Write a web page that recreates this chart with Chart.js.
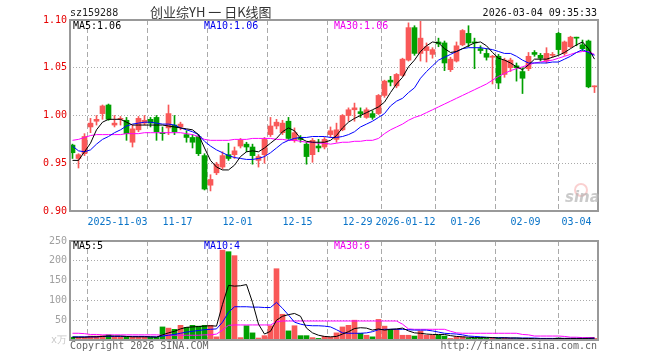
<!DOCTYPE html>
<html>
<head>
<meta charset="utf-8">
<script src="https://cdn.jsdelivr.net/npm/chart.js@4.4.0/dist/chart.umd.min.js"></script>
<style>
  body { margin: 0; width: 660px; height: 360px; background: #fff; position: relative; overflow: hidden;
         font-family: 'DejaVu Sans Mono', monospace; font-size: 10px; }
  canvas { position: absolute; left: 0; }
  #velas { top: 0; }
  #vol { top: 232px; }
  .t { position: absolute; white-space: nowrap; line-height: 12px; }
</style>
</head>
<body>
<canvas id="velas" width="660" height="232" style="width:660px;height:232px"></canvas>
<canvas id="vol" width="660" height="128" style="width:660px;height:128px"></canvas>

<div class="t" style="left:70px;top:7px;color:#222">sz159288</div>
<div class="t" style="left:150px;top:4px;line-height:16px;font-family:'Noto Sans CJK SC';font-size:13px;color:#333">创业综YH 一 日K线图</div>
<div class="t" style="right:63px;top:7px;color:#111">2026-03-04 09:35:33</div>
<div class="t" id="lMa5" style="left:73px;top:20px;color:#000"></div>
<div class="t" id="lMa10" style="left:204px;top:20px;color:#0000ee"></div>
<div class="t" id="lMa30" style="left:334px;top:20px;color:#ee00ee"></div>
<div class="t" id="vMa5" style="left:73px;top:240px;color:#000"></div>
<div class="t" id="vMa10" style="left:204px;top:240px;color:#0000ee"></div>
<div class="t" id="vMa30" style="left:334px;top:240px;color:#ee00ee"></div>
<div class="t" style="left:70px;top:340px;color:#666">Copyright 2026 SINA.COM</div>
<div class="t" style="right:63px;top:340px;color:#666">http://finance.sina.com.cn</div>
<div style="position:absolute;left:574px;top:183px;width:10px;height:10px;border:2px solid rgba(240,120,120,0.35);border-radius:50%"></div>
<div class="t" style="left:565px;top:190px;line-height:14px;font-family:'DejaVu Sans';font-size:15px;font-weight:bold;font-style:italic;color:rgba(180,180,180,0.7)">sina</div>

<script>
// dias de cotizacion (88 sesiones)
const dias = [
  '2025-10-22','2025-10-23','2025-10-24','2025-10-27','2025-10-28','2025-10-29','2025-10-30','2025-10-31',
  '2025-11-03','2025-11-04','2025-11-05','2025-11-06','2025-11-07','2025-11-10','2025-11-11','2025-11-12','2025-11-13','2025-11-14',
  '2025-11-17','2025-11-18','2025-11-19','2025-11-20','2025-11-21','2025-11-24','2025-11-25','2025-11-26','2025-11-27','2025-11-28',
  '2025-12-01','2025-12-02','2025-12-03','2025-12-04','2025-12-05','2025-12-08','2025-12-09','2025-12-10','2025-12-11','2025-12-12',
  '2025-12-15','2025-12-16','2025-12-17','2025-12-18','2025-12-19','2025-12-22','2025-12-23','2025-12-24','2025-12-25','2025-12-26',
  '2025-12-29','2025-12-30','2025-12-31',
  '2026-01-05','2026-01-06','2026-01-07','2026-01-08','2026-01-09','2026-01-12','2026-01-13','2026-01-14','2026-01-15','2026-01-16',
  '2026-01-19','2026-01-20','2026-01-21','2026-01-22','2026-01-23','2026-01-26','2026-01-27','2026-01-28','2026-01-29','2026-01-30',
  '2026-02-02','2026-02-03','2026-02-04','2026-02-05','2026-02-06','2026-02-09','2026-02-10','2026-02-11','2026-02-12','2026-02-13',
  '2026-02-24','2026-02-25','2026-02-26','2026-02-27','2026-03-02','2026-03-03','2026-03-04'
];

const apertura = [
  0.969,0.955,0.960,0.988,0.994,1.002,1.011,0.990,0.996,0.995,
  0.972,0.985,0.992,0.996,0.998,0.982,0.987,0.990,0.988,0.980,
  0.977,0.978,0.958,0.927,0.940,0.946,0.959,0.959,0.968,0.970,
  0.967,0.953,0.959,0.980,0.989,0.982,0.994,0.974,0.977,0.970,
  0.959,0.968,0.967,0.980,0.975,0.985,1.000,1.006,1.004,0.998,
  1.002,1.002,1.021,1.037,1.031,1.042,1.058,1.092,1.065,1.068,
  1.064,1.077,1.076,1.048,1.057,1.074,1.086,1.077,1.070,1.065,
  1.061,1.062,1.043,1.050,1.052,1.046,1.049,1.066,1.063,1.057,
  1.063,1.086,1.065,1.072,1.082,1.074,1.078,1.030
];
const maximo = [
  0.970,0.960,0.981,0.997,1.000,1.011,1.012,1.000,0.999,0.998,
  0.990,0.999,1.000,0.998,1.000,0.988,1.011,1.000,0.993,0.984,
  0.980,0.980,0.960,0.938,0.951,0.962,0.971,0.967,0.976,0.972,
  0.970,0.959,0.977,0.998,0.996,0.995,0.998,0.987,0.979,0.972,
  0.976,0.975,0.977,0.988,0.992,1.001,1.008,1.013,1.008,1.008,
  1.005,1.022,1.037,1.041,1.044,1.060,1.097,1.094,1.100,1.076,
  1.071,1.081,1.078,1.061,1.077,1.090,1.094,1.081,1.073,1.070,
  1.063,1.064,1.060,1.060,1.055,1.050,1.066,1.068,1.065,1.071,
  1.066,1.087,1.078,1.083,1.082,1.079,1.079,1.031
];
const minimo = [
  0.955,0.945,0.958,0.982,0.990,0.996,0.995,0.988,0.990,0.974,
  0.967,0.983,0.990,0.988,0.974,0.974,0.980,0.980,0.985,0.972,
  0.966,0.958,0.922,0.921,0.938,0.944,0.953,0.955,0.966,0.962,
  0.949,0.946,0.950,0.978,0.986,0.980,0.975,0.972,0.972,0.949,
  0.951,0.962,0.965,0.977,0.972,0.984,0.994,0.994,0.998,0.997,
  0.996,1.001,1.019,1.031,1.029,1.041,1.057,1.063,1.057,1.056,
  1.060,1.072,1.047,1.046,1.056,1.073,1.072,1.049,1.065,1.058,
  1.033,1.028,1.040,1.046,1.036,1.023,1.047,1.062,1.057,1.055,
  1.061,1.064,1.063,1.071,1.073,1.068,1.029,1.024
];
const cierre = [
  0.961,0.959,0.978,0.992,0.996,1.010,0.996,0.992,0.997,0.981,
  0.986,0.997,0.995,0.992,0.983,0.981,1.002,0.983,0.991,0.977,
  0.972,0.960,0.923,0.933,0.949,0.958,0.955,0.963,0.974,0.967,
  0.958,0.957,0.975,0.989,0.993,0.992,0.976,0.982,0.975,0.957,
  0.974,0.966,0.975,0.984,0.985,1.000,1.006,1.008,1.002,1.006,
  0.998,1.021,1.036,1.035,1.043,1.059,1.092,1.065,1.081,1.072,
  1.069,1.075,1.055,1.059,1.073,1.089,1.076,1.076,1.068,1.061,
  1.062,1.034,1.058,1.058,1.050,1.039,1.062,1.064,1.060,1.065,
  1.064,1.069,1.077,1.082,1.081,1.070,1.030,1.031
];

// medias moviles
const ma5 = [
  0.953,0.953,0.962,0.971,0.985,0.993,0.996,0.996,0.996,0.993,
  0.990,0.990,0.990,0.990,0.990,0.990,0.989,0.988,0.987,0.986,
  0.985,0.980,0.966,0.953,0.946,0.943,0.943,0.948,0.957,0.962,
  0.963,0.962,0.966,0.971,0.976,0.983,0.987,0.984,0.976,0.973,
  0.972,0.972,0.972,0.974,0.979,0.987,0.993,0.997,1.000,1.003,
  1.006,1.009,1.014,1.024,1.033,1.040,1.051,1.058,1.067,1.073,
  1.077,1.076,1.070,1.066,1.067,1.070,1.073,1.076,1.077,1.073,
  1.066,1.060,1.058,1.055,1.051,1.048,1.053,1.059,1.059,1.059,
  1.061,1.063,1.066,1.070,1.074,1.077,1.070,1.059
];
const ma10 = [
  0.968,0.963,0.962,0.964,0.970,0.975,0.978,0.982,0.985,0.989,
  0.991,0.992,0.993,0.993,0.992,0.991,0.991,0.990,0.987,0.985,
  0.983,0.980,0.973,0.968,0.964,0.961,0.958,0.956,0.955,0.954,
  0.954,0.955,0.957,0.961,0.966,0.971,0.974,0.976,0.977,0.977,
  0.978,0.978,0.978,0.977,0.977,0.978,0.980,0.983,0.988,0.991,
  0.994,0.998,1.002,1.010,1.015,1.018,1.024,1.029,1.039,1.046,
  1.052,1.058,1.061,1.064,1.067,1.070,1.071,1.071,1.071,1.070,
  1.069,1.067,1.065,1.065,1.062,1.058,1.055,1.055,1.055,1.055,
  1.056,1.056,1.059,1.062,1.066,1.069,1.066,1.063
];
const ma30 = [
  0.974,0.975,0.977,0.979,0.980,0.980,0.980,0.980,0.980,0.981,
  0.981,0.981,0.982,0.982,0.982,0.982,0.982,0.982,0.982,0.981,
  0.980,0.978,0.975,0.974,0.974,0.974,0.974,0.975,0.975,0.975,
  0.976,0.976,0.976,0.976,0.975,0.975,0.974,0.974,0.973,0.972,
  0.972,0.971,0.971,0.970,0.971,0.972,0.972,0.973,0.973,0.974,
  0.974,0.976,0.981,0.985,0.988,0.991,0.995,0.998,1.000,1.003,
  1.006,1.009,1.012,1.015,1.018,1.021,1.024,1.027,1.030,1.033,
  1.037,1.041,1.044,1.047,1.049,1.051,1.053,1.055,1.056,1.057,
  1.058,1.060,1.062,1.064,1.066,1.067,1.067,1.064
];

// volumen (万)
const volumen = [
  7,7,7,10,10,11,13,8,7,8,
  7,8,8,7,7,33,30,27,37,32,
  37,35,37,37,8,227,223,213,6,36,
  18,5,11,36,180,65,23,36,11,11,
  6,4,9,7,18,33,37,50,17,12,
  8,52,35,27,27,12,12,10,23,12,
  12,12,10,4,8,8,5,5,6,4,
  6,4,6,4,3,3,4,3,3,4,
  3,5,4,3,3,4,6,4
];
const volMa5 = [
  7,7,7,8,8,9,10,10,10,9,
  8,8,8,8,7,13,18,22,28,32,
  33,34,35,36,35,90,138,136,137,140,
  95,40,15,22,50,60,64,67,60,30,
  18,12,9,8,9,15,21,29,31,30,
  25,28,25,27,28,30,23,18,17,15,
  14,14,14,11,9,8,7,6,6,6,
  6,5,5,5,5,4,4,3,3,3,
  3,4,4,4,4,4,4,5
];
const volMa10 = [
  8,8,8,8,8,9,9,9,9,9,
  9,9,9,8,8,10,12,14,17,20,
  22,24,26,27,28,45,70,84,84,84,
  83,83,82,82,95,80,63,45,40,37,
  36,36,35,33,26,18,17,17,17,18,
  21,26,27,27,27,27,26,25,25,25,
  23,20,17,16,15,13,10,9,8,7,
  6,6,6,5,5,5,5,5,4,4,
  4,4,4,4,4,4,4,4
];
const volMa30 = [
  17,17,16,14,14,13,13,13,13,13,
  13,13,13,13,13,12,12,12,12,12,
  12,12,13,13,15,25,37,38,38,38,
  38,38,38,38,46,48,48,48,48,48,
  48,48,48,48,48,48,48,48,48,48,
  48,48,48,48,48,40,28,27,27,27,
  27,27,27,22,18,17,17,17,17,17,
  17,17,17,17,17,14,13,10,10,10,
  10,10,9,7,7,6,6,6
];

// ejes
const ticksPrecio = [0.90, 0.95, 1.00, 1.05, 1.10];
const ticksVolumen = [0, 50, 100, 150, 200, 250];
const diasMarcados = ['2025-11-03','2025-11-17','2025-12-01','2025-12-15','2025-12-29','2026-01-12','2026-01-26','2026-02-09','2026-03-04'];
const textosFecha = ['2025-11-03','11-17','12-01','12-15','12-29','2026-01-12','01-26','02-09','03-04'];

// ---- helpers ----
const ROJO = '#f95858', VERDE = '#00a000';
const colores = cierre.map((c, i) => c >= apertura[i] ? ROJO : VERDE);
const puntos = serie => serie.map((v, i) => ({ x: i, y: v }));
const marcas = diasMarcados.map(d => dias.indexOf(d) - 0.5);
const fuente = { family: "'DejaVu Sans Mono', monospace", size: 10 };
const desfase = 1 / 12; // centra las velas en medio pixel

function lineaMA(serie, color) {
  return { type: 'line', data: puntos(serie), borderColor: color, borderWidth: 1,
           pointRadius: 0, tension: 0, order: 0 };
}

function ejeX(conTexto, alto) {
  return {
    type: 'linear', bounds: 'data', offset: false,
    min: -0.5 + desfase, max: dias.length - 0.5 + desfase,
    afterBuildTicks: s => { s.ticks = marcas.map(v => ({ value: v })); },
    afterFit: s => { s.height = alto; },
    grid: { color: '#aaa', lineWidth: 1, drawTicks: false },
    border: { display: false, dash: [5, 3] },
    ticks: {
      display: conTexto, autoSkip: false, maxRotation: 0, minRotation: 0, padding: 5,
      color: '#0a74c8', font: fuente,
      // la ultima fecha va alineada a la izquierda de su linea
      callback: (v, i) => i === textosFecha.length - 1 ? textosFecha[i] + ' '.repeat(textosFecha[i].length) : textosFecha[i]
    }
  };
}

function ejeY(min, max, lista, formato, color) {
  return {
    type: 'linear', bounds: 'data', min: min, max: max,
    afterBuildTicks: s => { s.ticks = lista.map(v => ({ value: v })); },
    afterFit: s => { s.width = 70; },
    grid: { color: '#aaa', lineWidth: 1, drawTicks: false },
    border: { display: false, dash: [1, 2] },
    ticks: { padding: 3, font: fuente, color: color, callback: formato }
  };
}

// marco gris alrededor del area
const marco = {
  id: 'marco',
  afterDraw(chart) {
    const { ctx, chartArea: a } = chart;
    ctx.save();
    ctx.strokeStyle = '#999';
    ctx.lineWidth = 2;
    ctx.strokeRect(a.left, a.top, a.right - a.left, a.bottom - a.top);
    ctx.restore();
  }
};

const comunes = {
  responsive: false, animation: false,
  plugins: { legend: { display: false }, tooltip: { enabled: false } }
};

// ---- grafico de velas ----
new Chart(document.getElementById('velas'), {
  type: 'bar',
  data: {
    datasets: [
      { data: dias.map((d, i) => ({ x: i, y: [minimo[i], maximo[i]] })), backgroundColor: colores,
        barThickness: 1, grouped: false, order: 2 },
      { data: dias.map((d, i) => ({ x: i, y: [apertura[i], cierre[i]] })), backgroundColor: colores,
        barThickness: 5, minBarLength: 1, grouped: false, order: 1 },
      lineaMA(ma5, '#000000'),
      lineaMA(ma10, '#0000ff'),
      lineaMA(ma30, '#ff00ff')
    ]
  },
  options: {
    ...comunes,
    layout: { padding: { left: 0, right: 62, top: 20, bottom: 0 } },
    scales: {
      x: ejeX(true, 21),
      y: ejeY(0.90, 1.10, ticksPrecio, v => v.toFixed(2), '#e60000')
    }
  },
  plugins: [marco]
});

// ---- grafico de volumen ----
new Chart(document.getElementById('vol'), {
  type: 'bar',
  data: {
    datasets: [
      { data: puntos(volumen), backgroundColor: colores, barThickness: 5, grouped: false, order: 1 },
      lineaMA(volMa5, '#000000'),
      lineaMA(volMa10, '#0000ff'),
      lineaMA(volMa30, '#ff00ff')
    ]
  },
  options: {
    ...comunes,
    layout: { padding: { left: 0, right: 62, top: 8, bottom: 0 } },
    scales: {
      x: ejeX(false, 20),
      y: (() => {
        const e = ejeY(0, 250, ticksVolumen, v => v === 0 ? 'x万' : String(v), '#a0a0a0');
        e.ticks.color = c => c.tick && c.tick.value === 0 ? '#c8c8c8' : '#a0a0a0';
        return e;
      })()
    }
  },
  plugins: [marco]
});

// leyendas con el ultimo valor
const ult = a => a[a.length - 1];
document.getElementById('lMa5').textContent = 'MA5:' + ult(ma5).toFixed(2);
document.getElementById('lMa10').textContent = 'MA10:' + ult(ma10).toFixed(2);
document.getElementById('lMa30').textContent = 'MA30:' + ult(ma30).toFixed(2);
document.getElementById('vMa5').textContent = 'MA5:' + ult(volMa5);
document.getElementById('vMa10').textContent = 'MA10:' + ult(volMa10);
document.getElementById('vMa30').textContent = 'MA30:' + ult(volMa30);
</script>
</body>
</html>
